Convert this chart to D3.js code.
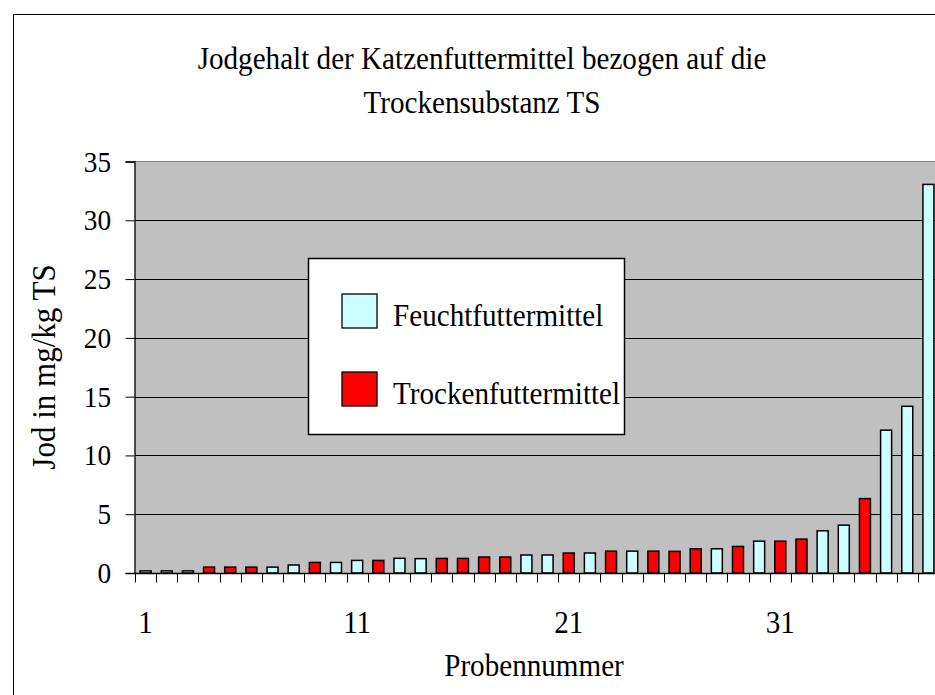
<html>
<head>
<meta charset="utf-8">
<title>Jodgehalt</title>
<script src="https://d3js.org/d3.v7.min.js"></script>
<style>
  body { margin: 0; background: #fff; }
  text { font-family: "Liberation Serif", "Times New Roman", serif; fill: #000; }
</style>
</head>
<body>
<div id="chart"></div>
<script type="text/javascript">
// sample numbers (Probennummer)
var samples = [1,2,3,4,5,6,7,8,9,10,11,12,13,14,15,16,17,18,19,20,
               21,22,23,24,25,26,27,28,29,30,31,32,33,34,35,36,37,38];
// iodine in mg/kg TS
var jod = [0.18,0.18,0.18,0.5,0.5,0.5,0.5,0.68,0.9,0.9,1.07,1.07,1.25,1.22,1.24,1.24,1.36,1.36,1.53,1.53,
           1.7,1.7,1.86,1.86,1.86,1.84,2.06,2.06,2.26,2.71,2.71,2.88,3.59,4.07,6.33,12.15,14.18,33.05];
// F = Feuchtfuttermittel, T = Trockenfuttermittel
var typ = ["F","F","F","T","T","T","F","F","T","F","F","T","F","F","T","T","T","T","F","F",
           "T","F","T","F","T","T","T","F","T","F","T","T","F","F","T","F","F","F"];
var yTicks = [0,5,10,15,20,25,30,35];
var xLabels = [1,11,21,31];
var legendNames = ["Feuchtfuttermittel","Trockenfuttermittel"];

var w = 935, h = 695;
var pLeft = 135, pRight = 939, pTop = 161.5, pBottom = 573;
var fillColor = {F: "#ccffff", T: "#ff0000"};
var sx = 0.94; // glyphs in the original look slightly condensed

var svg = d3.select("#chart").append("svg")
    .attr("width", w).attr("height", h);

// text helper: condensed text placed at x,y
function label(g, tx, ty, size, anchor, str, rot) {
    return g.append("text")
       .attr("transform", "translate(" + tx + "," + ty + ")" + (rot ? " rotate(" + rot + ")" : "") + " scale(" + sx + ",1)")
       .attr("text-anchor", anchor)
       .attr("font-size", size)
       .text(str);
}

// outer chart frame (cut off at right and bottom)
svg.append("rect")
   .attr("x", 13.5).attr("y", 14.5)
   .attr("width", w).attr("height", h)
   .attr("fill", "#fff").attr("stroke", "#000").attr("stroke-width", 1);

var x = d3.scaleBand().domain(samples).range([pLeft, pRight]).padding(0);
var y = d3.scaleLinear().domain([0, 35]).range([pBottom, pTop]);

// plot area
svg.append("rect")
   .attr("x", pLeft).attr("y", pTop)
   .attr("width", pRight - pLeft).attr("height", pBottom - pTop)
   .attr("fill", "#c0c0c0");
svg.append("line")
   .attr("x1", pLeft).attr("x2", pRight)
   .attr("y1", y(35)).attr("y2", y(35))
   .attr("stroke", "#808080").attr("stroke-width", 1.2);

// gridlines
svg.selectAll("line.grid")
   .data(yTicks.filter(function(d){ return d > 0 && d < 35; }))
   .enter().append("line")
   .attr("class", "grid")
   .attr("x1", pLeft).attr("x2", pRight)
   .attr("y1", function(d){ return Math.round(y(d)) + 0.5; })
   .attr("y2", function(d){ return Math.round(y(d)) + 0.5; })
   .attr("stroke", "#000").attr("stroke-width", 1);

// bars
var bw = x.bandwidth() * 0.52;
svg.selectAll("rect.bar")
   .data(samples)
   .enter().append("rect")
   .attr("class", "bar")
   .attr("x", function(d){ return x(d) + (x.bandwidth() - bw) / 2; })
   .attr("y", function(d, i){ return y(jod[i]); })
   .attr("width", bw)
   .attr("height", function(d, i){ return pBottom - y(jod[i]); })
   .attr("fill", function(d, i){ return fillColor[typ[i]]; })
   .attr("stroke", "#000").attr("stroke-width", 1.5);

// y axis
var yAxis = svg.append("g")
   .attr("transform", "translate(" + (pLeft - 0.5) + ",0)")
   .call(d3.axisLeft(y).tickValues(yTicks).tickSize(9).tickFormat(""));
yAxis.select(".domain").attr("stroke", "#000").attr("stroke-width", 1.3);
yAxis.selectAll(".tick line").attr("stroke", "#000");
yTicks.forEach(function(t) {
    label(svg, 111, y(t) + 10, 29, "end", t);
});

// x axis: ticks on the category borders
var xAxis = svg.append("g")
   .attr("transform", "translate(0," + (pBottom + 0.5) + ")");
xAxis.append("line")
   .attr("x1", pLeft).attr("x2", pRight)
   .attr("stroke", "#000").attr("stroke-width", 1.3);
var borders = samples.map(function(d){ return x(d); }).concat([pRight]);
xAxis.selectAll("line.tk")
   .data(borders)
   .enter().append("line")
   .attr("class", "tk")
   .attr("x1", function(d){ return Math.round(d) + 0.5; })
   .attr("x2", function(d){ return Math.round(d) + 0.5; })
   .attr("y1", 0).attr("y2", 9)
   .attr("stroke", "#000").attr("stroke-width", 1);
xLabels.forEach(function(d) {
    label(svg, x(d) + x.bandwidth() / 2, 633, 31, "middle", d);
});

// titles
label(svg, 482, 69, 31, "middle", "Jodgehalt der Katzenfuttermittel bezogen auf die");
label(svg, 482, 113, 31, "middle", "Trockensubstanz TS");
label(svg, 534, 676, 31, "middle", "Probennummer");
label(svg, 55, 367, 33, "middle", "Jod in mg/kg TS", -90);

// legend
var legend = svg.append("g");
legend.append("rect")
   .attr("x", 308.5).attr("y", 258.5)
   .attr("width", 316).attr("height", 176)
   .attr("fill", "#fff").attr("stroke", "#000").attr("stroke-width", 1.5);
var legY = [294, 372];
legend.selectAll("rect.sw")
   .data(legendNames)
   .enter().append("rect")
   .attr("class", "sw")
   .attr("x", 342).attr("y", function(d, i){ return legY[i]; })
   .attr("width", 35).attr("height", 34)
   .attr("fill", function(d, i){ return i == 0 ? fillColor.F : fillColor.T; })
   .attr("stroke", "#000").attr("stroke-width", 1.3);
legendNames.forEach(function(d, i) {
    label(legend, 393, legY[i] + 32, 31, "start", d);
});
</script>
</body>
</html>
